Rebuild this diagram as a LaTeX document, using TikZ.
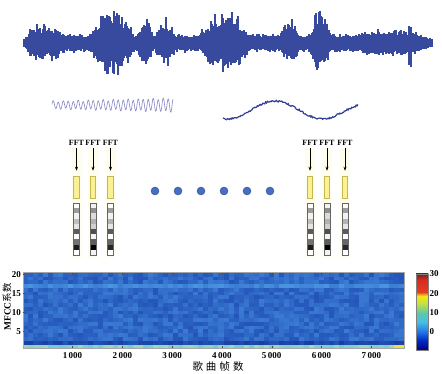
\documentclass[tikz,border=0pt]{standalone}
\usepackage{fontspec}
\setmainfont{Liberation Serif}
\newfontfamily\cjkfont{Noto Sans CJK SC}
\usetikzlibrary{arrows.meta}
\definecolor{wavec}{RGB}{56,74,158}
\definecolor{oscc}{RGB}{135,135,200}
\definecolor{slowc}{RGB}{50,60,150}
\definecolor{winfill}{RGB}{250,240,150}
\definecolor{windraw}{RGB}{195,185,80}
\definecolor{colbg}{RGB}{255,253,238}
\definecolor{dotc}{RGB}{70,110,195}
\definecolor{hmlo}{RGB}{35,85,185}
\definecolor{hmhi}{RGB}{58,122,210}
\definecolor{hmdk}{RGB}{25,62,160}
\definecolor{hmlt}{RGB}{75,150,225}
\definecolor{hmcy}{RGB}{110,200,225}
\definecolor{hmgr}{RGB}{160,220,175}
\definecolor{hmye}{RGB}{235,225,70}
% jet colour bar
\definecolor{jA}{RGB}{0,0,130}
\definecolor{jB}{RGB}{0,45,200}
\definecolor{jC}{RGB}{35,115,230}
\definecolor{jD}{RGB}{70,190,230}
\definecolor{jE}{RGB}{90,200,170}
\definecolor{jF}{RGB}{200,225,60}
\definecolor{jG}{RGB}{245,230,25}
\definecolor{jH}{RGB}{230,60,30}
\definecolor{jI}{RGB}{215,45,35}
\definecolor{jJ}{RGB}{140,25,25}
\pgfdeclareverticalshading{jetbar}{100bp}{color(0bp)=(jA); color(25bp)=(jA);
  color(31.6bp)=(jB); color(36.8bp)=(jC); color(43.4bp)=(jD); color(49.3bp)=(jE);
  color(55.9bp)=(jF); color(60.5bp)=(jG); color(63.2bp)=(jH); color(71bp)=(jI);
  color(75bp)=(jJ); color(100bp)=(jJ)}

\begin{document}
\begin{tikzpicture}[
  x=1pt, y=-1pt,
  declare function={cl(\q,\m,\s)=min(2,abs((\q-\m)/\s));
                    bump(\q,\m,\s)=max(0,1-cl(\q,\m,\s)*cl(\q,\m,\s));},
  wave/.style={draw=wavec, line width=1.2pt},
  osc/.style={draw=oscc, line width=.6pt},
  slow/.style={draw=slowc, line width=1.2pt},
  fftlab/.style={font=\fontsize{8}{8}\selectfont\bfseries, inner sep=2pt},
  winbox/.style={draw=windraw, fill=winfill, line width=.6pt,
                 minimum width=5.5pt, minimum height=22pt, inner sep=0pt},
  featbox/.style={draw=black!60, line width=.4pt, minimum width=6pt,
                  minimum height=52pt, inner sep=0pt},
  dot/.style={circle, draw=dotc!70!black, fill=dotc, line width=.4pt,
              minimum size=8pt, inner sep=0pt},
  tick/.style={draw=black!70, line width=.4pt},
  numlab/.style={font=\fontsize{9}{9}\selectfont\bfseries, inner sep=1pt},
]
\useasboundingbox (0,0) rectangle (442,374);
\pgfmathsetseed{3}

% song waveform
\foreach \i in {0,...,408}{
  \pgfmathsetmacro{\x}{24+\i}
  \pgfmathsetmacro{\a}{(7+12*bump(\x,45,20)+32*bump(\x,112,22)+20*bump(\x,145,8)
     +18*bump(\x,165,10)+26*bump(\x,225,25)+16*bump(\x,290,10)+30*bump(\x,320,10)
     +6*bump(\x,395,45)+20*bump(\x,410,2))*min(1,(\x-23)/8)*min(1,(433-\x)/20)}
  \pgfmathsetmacro{\u}{\a*(0.35+0.65*rnd*rnd)+3.5}
  \pgfmathsetmacro{\d}{\a*(0.35+0.65*rnd*rnd)+3.5}
  \draw[wave] (\x,43-\u) -- (\x,43+\d);
}

% short frames
\draw[osc] plot[domain=52:173, samples=400]
  (\x,{105-(3.5+3*(\x-52)/121)*sin(72*(\x-52))-0.8*sin(29*\x)});
\draw[slow] plot[domain=223:358, samples=150]
  (\x,{110-(9-2*max(0,(\x-323)/35))*sin(3.75*(\x-251))+1.8*(rnd-0.5)});

% FFT columns
\foreach \x [count=\k] in {76.5,93,110.5,310,327,345}{
  \fill[colbg] (\x-5,148) rectangle (\x+5,258);
}
\foreach \x/\g [count=\k] in {76.5/{1,.6,.95,.75,.9,.35,1,.45,.1,1},
                              93/{.95,.55,.85,.7,.8,.3,.95,.35,0,.95},
                              110.5/{1,.6,.95,.7,.9,.35,1,.4,.15,1},
                              310/{1,.6,.95,.75,.9,.35,1,.45,.1,1},
                              327/{.95,.55,.85,.7,.8,.3,.95,.35,0,.95},
                              345/{1,.6,.95,.7,.9,.35,1,.4,.15,1}}{
  \node[fftlab] (fft\k) at (\x,143) {FFT};
  \node[winbox] (win\k) at (\x,187) {};
  \draw[-{Stealth[length=4pt,width=3pt]}, line width=.5pt, shorten >=5pt]
    (fft\k) -- (win\k);
  \foreach \v [count=\s] in \g{
    \pgfmathtruncatemacro{\p}{100*(1-\v)}
    \fill[black!\p] (\x-3,203+5.2*\s-5.2) rectangle (\x+3,203+5.2*\s);
  }
  \node[featbox] (feat\k) at (\x,229) {};
}

\foreach \x [count=\j] in {155,178,201,224,247,270}
  \node[dot] (dot\j) at (\x,191) {};

% MFCC map
\foreach \r in {1,...,20}{
  \foreach \c in {0,...,75}{
    \pgfmathtruncatemacro{\t}{100*rnd}
    \ifnum\r=1
      \ifnum\c>73 \colorlet{cellc}{hmye}\else\colorlet{cellc}{hmcy!\t!hmgr}\fi
    \else\ifnum\r=2
      \colorlet{cellc}{hmdk!\t!hmlo}
    \else\ifnum\r=17
      \colorlet{cellc}{hmhi!\t!hmlt}
    \else
      \colorlet{cellc}{hmlo!\t!hmhi}
    \fi\fi\fi
    \fill[cellc] (22.7+5.02*\c,348.3-3.78*\r) rectangle +(5.1,3.85);
  }
}
\draw[draw=black!35, line width=.4pt] (22.7,272.7) rectangle (404,348.3);
\foreach \v in {1,...,7}{
  \draw[tick] (22.7+49.8*\v,272.7) -- ++(0,2.5);
  \draw[tick] (22.7+49.8*\v,348.3) -- ++(0,-2.5);
  \node[numlab, anchor=north] (xt\v) at (22.7+49.8*\v,351) {\v\,000};
}
\foreach \v in {5,10,15,20}{
  \draw[tick] (22.7,350.2-3.78*\v) -- ++(2.5,0);
  \node[numlab, anchor=east] (yt\v) at (22,350.2-3.78*\v) {\v};
}
\node[font=\fontsize{9.5}{9.5}\selectfont, rotate=90] (ylab) at (7,307)
  {\textbf{MFCC}\cjkfont 系数};
\node[font=\fontsize{10.5}{10.5}\cjkfont] (xlab) at (218,367)
  {歌\hspace{3pt}曲\hspace{3pt}帧\hspace{3pt}数};

% colour bar
\shade[shading=jetbar] (416,274) rectangle (428.3,350);
\draw[draw=black!50, line width=.4pt] (416,274) rectangle (428.3,350);
\foreach \v/\y in {30/274,20/294,10/313,0/332}
  \node[numlab, anchor=west] (cb\v) at (428.5,\y) {\v};
\end{tikzpicture}
\end{document}
